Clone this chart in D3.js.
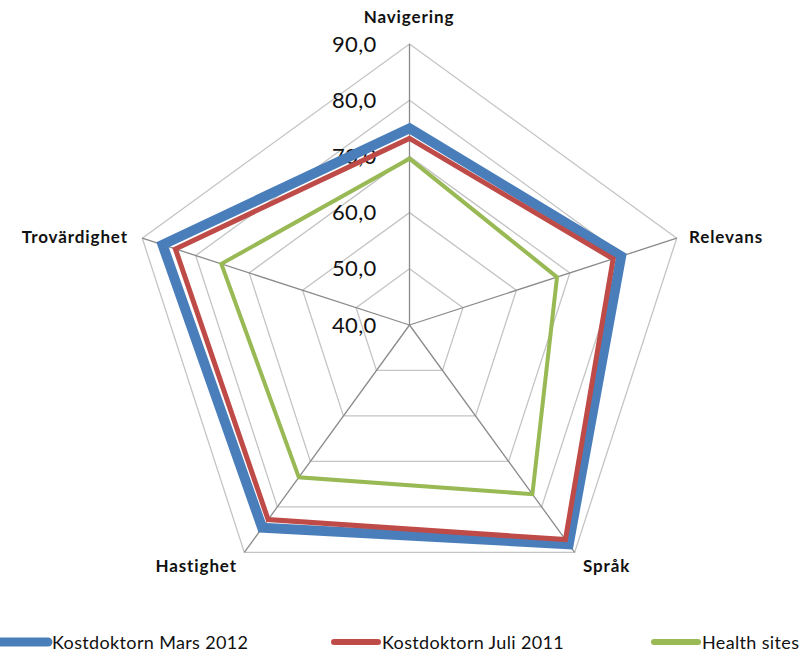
<!DOCTYPE html>
<html><head><meta charset="utf-8">
<script src="https://cdn.jsdelivr.net/npm/d3@7"></script>
<style>body{margin:0;background:#fff}svg{display:block}</style>
</head><body>
<svg id="c" width="808" height="656"></svg>
<script>
const categories = ["Navigering","Relevans","Språk","Hastighet","Trovärdighet"];
const seriesNames = ["Kostdoktorn Mars 2012","Kostdoktorn Juli 2011","Health sites"];
const mars2012 = [75.0, 79.6, 88.2, 84.6, 86.2];
const juli2011 = [73.2, 78.1, 87.2, 82.8, 83.8];
const healthSites = [69.6, 67.6, 77.2, 73.5, 75.2];
const tickValues = [40, 50, 60, 70, 80, 90];
const tickLabels = ["40,0","50,0","60,0","70,0","80,0","90,0"];

const colors = ["#4a7ebb","#be4b48","#98b954"];
const widths = [10, 5, 4];
const legendWidths = [9, 6, 6];
const series = [mars2012, juli2011, healthSites];

const svg = d3.select("#c");
const cx = 409.5, cy = 325, R = 281;
const r = d3.scaleLinear().domain([40, 90]).range([0, R]);
const ang = d3.scaleLinear().domain([0, categories.length]).range([-Math.PI/2, 1.5*Math.PI]);
const pt = (i, v) => [cx + r(v)*Math.cos(ang(i)), cy + r(v)*Math.sin(ang(i))];

const g = svg.append("g");
// grid pentagons
tickValues.slice(1).forEach(t => {
  g.append("path")
    .attr("d", d3.line()(categories.map((c,i)=>pt(i,t))) + "Z")
    .attr("fill","none").attr("stroke","#c4c4c4").attr("stroke-width",1.3);
});
// spokes
categories.forEach((c,i) => {
  const p = pt(i, 90);
  g.append("line").attr("x1",cx).attr("y1",cy).attr("x2",p[0]).attr("y2",p[1])
    .attr("stroke","#8a8a8a").attr("stroke-width",1.3);
});
// tick labels
tickValues.forEach((t,k) => {
  g.append("text").attr("x", cx - 33).attr("y", cy - r(t) + 7.5)
    .attr("text-anchor","end").attr("font-family","Lato, 'Open Sans', sans-serif")
    .attr("font-size", 22).attr("letter-spacing", 0.3).attr("fill","#111").text(tickLabels[k]);
});
// series
series.forEach((s, k) => {
  g.append("path")
    .attr("d", d3.line()(s.map((v,i)=>pt(i,v))) + "Z")
    .attr("fill","none").attr("stroke",colors[k]).attr("stroke-width",widths[k])
    .attr("stroke-linejoin","miter");
});
// category labels
const catPos = [
  {x: 409, y: 23, a: "middle"},
  {x: 689, y: 243, a: "start"},
  {x: 583, y: 572, a: "start"},
  {x: 237, y: 572, a: "end"},
  {x: 128, y: 243, a: "end"}
];
categories.forEach((c,i) => {
  g.append("text").attr("x", catPos[i].x).attr("y", catPos[i].y)
    .attr("text-anchor", catPos[i].a)
    .attr("font-family","Lato, 'Open Sans', sans-serif").attr("font-weight","bold")
    .attr("font-size", 17).attr("letter-spacing", 0.9).attr("fill","#111").text(c);
});
// legend
const legX = [0, 330, 650];
seriesNames.forEach((n,k) => {
  const lg = svg.append("g").attr("transform", `translate(${legX[k]},642)`);
  lg.append("line").attr("x1", k===0 ? -5 : 4).attr("x2", 48).attr("y1",0).attr("y2",0)
    .attr("stroke", colors[k]).attr("stroke-width", legendWidths[k]).attr("stroke-linecap","round");
  lg.append("text").attr("x", 52).attr("y", 6.5)
    .attr("font-family","Lato, 'Open Sans', sans-serif").attr("font-size", 18).attr("letter-spacing", 0.35).attr("fill","#111").text(n);
});
</script>
</body></html>
